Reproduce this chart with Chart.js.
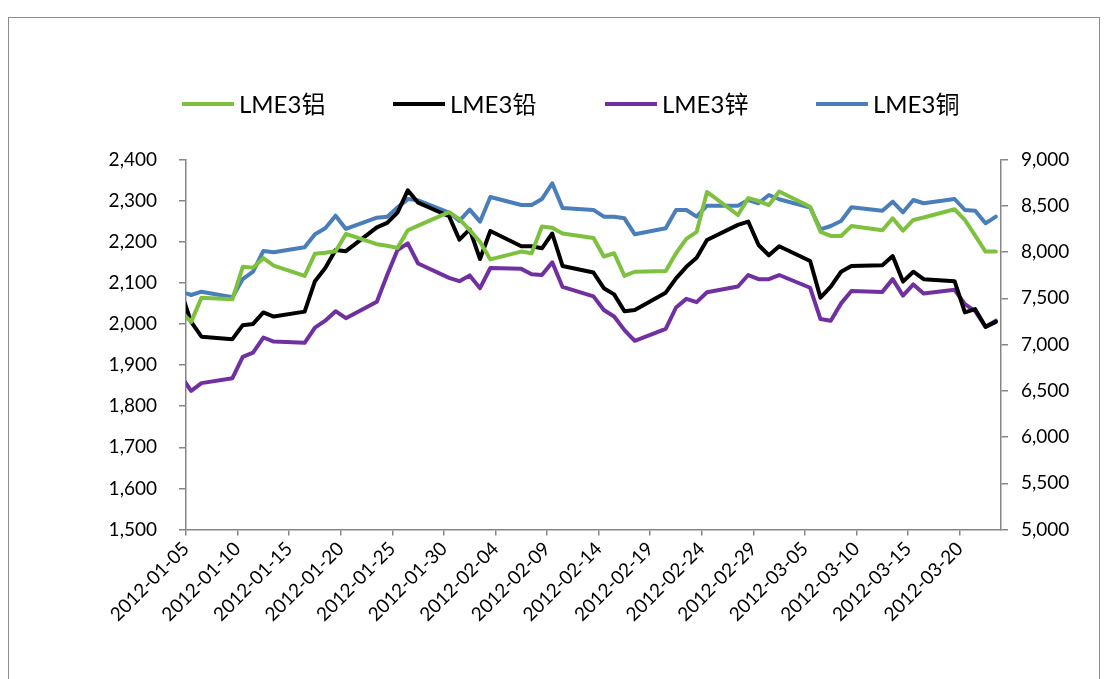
<!DOCTYPE html>
<html>
<head>
<meta charset="utf-8">
<script src="https://cdn.jsdelivr.net/npm/chart.js@4.4.1/dist/chart.umd.min.js"></script>
<style>
  html, body { margin: 0; padding: 0; background: #fff; }
  #wrap { position: relative; width: 1109px; height: 679px; overflow: hidden; background: #fff; }
  #frame { position: absolute; left: 8px; top: 17px; width: 1092px; height: 700px; border: 1px solid #8c8c8c; box-sizing: border-box; }
  canvas { position: absolute; left: 0; top: 0; }
  .lg { position: absolute; top: 104px; height: 0; font-family: Lato, "Noto Sans CJK SC", sans-serif; font-size: 24px; color: #000; white-space: nowrap; }
  .lg .ln { position: absolute; left: 0; top: -2px; width: 52px; height: 4px; }
  .lg .tx { position: absolute; left: 57px; top: -15px; line-height: 30px; }
</style>
</head>
<body>
<div id="wrap">
  <div id="frame"></div>
  <canvas id="c" width="1109" height="679"></canvas>
</div>
<script>
// ---- data ----
const dates = [
  '2012-01-04','2012-01-05','2012-01-06','2012-01-09','2012-01-10','2012-01-11','2012-01-12','2012-01-13',
  '2012-01-16','2012-01-17','2012-01-18','2012-01-19','2012-01-20','2012-01-23','2012-01-24','2012-01-25',
  '2012-01-26','2012-01-27','2012-01-30','2012-01-31','2012-02-01','2012-02-02','2012-02-03','2012-02-06',
  '2012-02-07','2012-02-08','2012-02-09','2012-02-10','2012-02-13','2012-02-14','2012-02-15','2012-02-16',
  '2012-02-17','2012-02-20','2012-02-21','2012-02-22','2012-02-23','2012-02-24','2012-02-27','2012-02-28',
  '2012-02-29','2012-03-01','2012-03-02','2012-03-05','2012-03-06','2012-03-07','2012-03-08','2012-03-09',
  '2012-03-12','2012-03-13','2012-03-14','2012-03-15','2012-03-16','2012-03-19','2012-03-20','2012-03-21',
  '2012-03-22','2012-03-23'
];
const aluminum = [
  2030,2005,2064,2060,2139,2137,2160,2142,
  2117,2171,2173,2177,2219,2194,2190,2185,
  2228,2239,2272,2255,2228,2200,2157,2176,
  2172,2237,2234,2220,2209,2164,2172,2117,
  2127,2129,2172,2207,2224,2321,2265,2306,
  2299,2289,2322,2285,2224,2214,2214,2238,
  2228,2257,2227,2253,2259,2279,2253,2215,
  2176,2176
];
const lead = [
  2079,2005,1969,1963,1997,2000,2028,2018,
  2030,2104,2136,2180,2177,2235,2246,2271,
  2325,2295,2262,2205,2230,2158,2226,2189,
  2189,2184,2220,2141,2125,2087,2072,2031,
  2034,2076,2111,2139,2161,2204,2241,2249,
  2192,2167,2189,2153,2064,2091,2127,2141,
  2143,2165,2103,2127,2109,2104,2028,2036,
  1993,2005
];
const zinc = [
  1874,1837,1856,1868,1920,1930,1967,1957,
  1954,1991,2008,2031,2014,2054,2119,2180,
  2196,2147,2112,2104,2118,2087,2136,2134,
  2121,2119,2150,2090,2067,2034,2018,1985,
  1959,1988,2040,2061,2053,2077,2091,2119,
  2109,2109,2119,2088,2012,2008,2050,2080,
  2078,2109,2069,2096,2074,2083,2048,2031,
  1993,2008
];
const copper = [
  7573,7535,7571,7510,7708,7787,8011,7997,
  8051,8191,8256,8392,8249,8371,8382,8480,
  8572,8558,8427,8337,8458,8328,8595,8508,
  8508,8572,8743,8476,8455,8382,8382,8364,
  8191,8256,8454,8454,8382,8501,8501,8562,
  8527,8616,8570,8479,8245,8281,8335,8483,
  8447,8544,8429,8562,8527,8573,8454,8447,
  8310,8382
];
const seriesNames = ['LME3铝', 'LME3铅', 'LME3锌', 'LME3铜'];
const seriesColors = ['#7dc13e', '#000000', '#7030a0', '#4a7ebb'];
const leftTicks = { min: 1500, max: 2400, step: 100 };
const rightTicks = { min: 5000, max: 9000, step: 500 };
const axisStart = '2012-01-05';
const axisDays = 79;      // through end of 2012-03-23 slot
const labelEvery = 5;     // days

// ---- helpers ----
const DAY = 86400000;
function toUTC(s) { const p = s.split('-').map(Number); return Date.UTC(p[0], p[1] - 1, p[2]); }
const t0 = toUTC(axisStart);
// each date occupies a one-day slot; the point sits in the middle of its slot
const xs = dates.map(d => (toUTC(d) - t0) / DAY + 0.5);
function pts(vals) { return vals.map((v, i) => ({ x: xs[i], y: v })); }
function fmtDate(v) {
  const d = new Date(t0 + Math.round(v) * DAY);
  const mm = String(d.getUTCMonth() + 1).padStart(2, '0');
  const dd = String(d.getUTCDate()).padStart(2, '0');
  return d.getUTCFullYear() + '-' + mm + '-' + dd;
}
const allSeries = [aluminum, lead, zinc, copper];
const axisIds = ['y', 'y', 'y', 'y1'];

const datasets = allSeries.map((vals, i) => ({
  label: seriesNames[i],
  data: pts(vals),
  borderColor: seriesColors[i],
  backgroundColor: seriesColors[i],
  borderWidth: 4,
  pointRadius: 0,
  tension: 0,
  yAxisID: axisIds[i],
  borderJoinStyle: 'round',
  borderCapStyle: 'round'
}));

const AX = '#868686';
const tickFont = { family: 'Lato, "Noto Sans CJK SC", sans-serif', size: 19 };

new Chart(document.getElementById('c'), {
  type: 'line',
  data: { datasets },
  options: {
    responsive: false,
    animation: false,
    events: [],
    layout: { padding: { top: 159.5, left: 0, right: 0, bottom: 0 } },
    plugins: { legend: { display: false }, tooltip: { enabled: false } },
    scales: {
      x: {
        type: 'linear',
        min: 0,
        max: axisDays,
        afterFit(s) { s.height = 679 - 529.5; },
        ticks: {
          stepSize: labelEvery,
          includeBounds: false,
          autoSkip: false,
          maxRotation: 45,
          minRotation: 45,
          padding: 2,
          color: '#000',
          font: tickFont,
          callback: v => fmtDate(v)
        },
        grid: { drawOnChartArea: false, drawTicks: true, tickLength: 6, color: AX, lineWidth: 1.5 },
        border: { display: true, color: AX, width: 1.5 }
      },
      y: {
        position: 'left',
        min: leftTicks.min,
        max: leftTicks.max,
        afterFit(s) { s.width = 186; },
        ticks: {
          stepSize: leftTicks.step,
          padding: 22,
          color: '#000',
          font: tickFont,
          callback: v => v.toLocaleString('en-US')
        },
        grid: { drawOnChartArea: false, drawTicks: true, tickLength: 7, color: AX, lineWidth: 1.5 },
        border: { display: true, color: AX, width: 1.5 }
      },
      y1: {
        position: 'right',
        min: rightTicks.min,
        max: rightTicks.max,
        afterFit(s) { s.width = 1109 - 1001; },
        ticks: {
          stepSize: rightTicks.step,
          padding: 13,
          color: '#000',
          font: tickFont,
          callback: v => v.toLocaleString('en-US')
        },
        grid: { drawOnChartArea: false, drawTicks: true, tickLength: 7, color: AX, lineWidth: 1.5 },
        border: { display: true, color: AX, width: 1.5 }
      }
    }
  }
});

// legend built from the series names / colours
const wrap = document.getElementById('wrap');
const legendX = [182, 393, 605, 816];
seriesNames.forEach((name, i) => {
  const d = document.createElement('div');
  d.className = 'lg';
  d.style.left = legendX[i] + 'px';
  d.innerHTML = '<div class="ln" style="background:' + seriesColors[i] + '"></div><div class="tx"></div>';
  d.querySelector('.tx').textContent = name;
  wrap.appendChild(d);
});
</script>
</body>
</html>
